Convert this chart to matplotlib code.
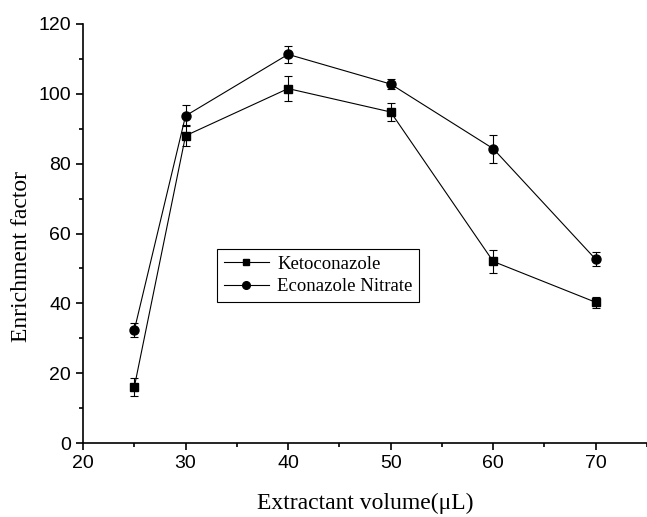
import matplotlib.pyplot as plt
from matplotlib.ticker import MultipleLocator
from matplotlib.lines import Line2D

volume = [25, 30, 40, 50, 60, 70]
keto = [16.0, 88.0, 101.5, 94.8, 52.0, 40.3]
keto_err = [2.5, 3.0, 3.5, 2.5, 3.2, 1.5]
econ = [32.3, 93.7, 111.3, 102.8, 84.3, 52.6]
econ_err = [2.0, 3.0, 2.5, 1.5, 4.0, 2.0]

fig = plt.figure(figsize=(6.47, 5.17), dpi=100)
ax = fig.add_axes([0.1283, 0.1431, 0.8717, 0.8105])

ax.errorbar(volume, keto, yerr=keto_err, color='black', marker='s', markersize=6,
            linewidth=0.8, elinewidth=0.8, capsize=3, capthick=0.8)
ax.errorbar(volume, econ, yerr=econ_err, color='black', marker='o', markersize=6.5,
            linewidth=0.8, elinewidth=0.8, capsize=3, capthick=0.8)

ax.set_xlim(20, 75)
ax.set_ylim(0, 120)
ax.xaxis.set_major_locator(MultipleLocator(10))
ax.xaxis.set_minor_locator(MultipleLocator(5))
ax.yaxis.set_major_locator(MultipleLocator(20))
ax.yaxis.set_minor_locator(MultipleLocator(10))
ax.spines['top'].set_visible(False)
ax.spines['right'].set_visible(False)
for s in ['left', 'bottom']:
    ax.spines[s].set_linewidth(1.2)
ax.tick_params(which='major', direction='out', length=5, width=1.2, labelsize=14)
ax.tick_params(which='minor', direction='out', length=3, width=1.2)
for lbl in ax.get_xticklabels() + ax.get_yticklabels():
    lbl.set_family('Liberation Sans')

ax.set_xlabel('Extractant volume(μL)', family='Liberation Serif', fontsize=17, labelpad=15)
ax.set_ylabel('Enrichment factor', family='Liberation Serif', fontsize=17)
ax.yaxis.set_label_coords(-0.09, 0.444)

handles = [Line2D([], [], color='black', marker='s', markersize=5, linewidth=0.8),
           Line2D([], [], color='black', marker='o', markersize=5.5, linewidth=0.8)]
leg = ax.legend(handles, ['Ketoconazole', 'Econazole Nitrate'], loc='upper left',
                bbox_to_anchor=(0.238, 0.463), borderaxespad=0,
                fancybox=False, edgecolor='black', framealpha=1,
                prop={'family': 'Liberation Serif', 'size': 13.5}, handlelength=2.4,
                handletextpad=0.45, labelspacing=0.3, borderpad=0.35)
leg.get_frame().set_linewidth(0.8)

fig.savefig('out.png', dpi=100)
